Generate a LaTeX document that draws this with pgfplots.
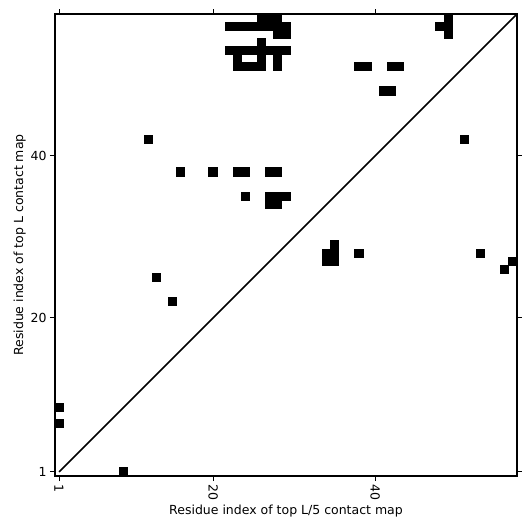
\documentclass[border=0pt]{standalone}
\usepackage{fontspec}
\setmainfont{DejaVu Sans}
\usepackage{pgfplots}
\pgfplotsset{compat=1.18}
\begin{document}
\begin{tikzpicture}
\path[use as bounding box] (-55pt,-55pt) rectangle (476pt,476pt);
\begin{axis}[
 at={(0pt,0pt)}, anchor=south west,
 width=462pt, height=462pt, scale only axis,
 xmin=0.5, xmax=57.5, ymin=0.5, ymax=57.5,
 xtick={1,20,40}, ytick={1,20,40},
 tick align=outside, major tick length=5pt,
 every tick/.style={black, line width=1pt},
 axis line style={line width=1.8pt},
 tick label style={font=\fontsize{12.5}{15}\selectfont},
 label style={font=\fontsize{12.5}{15}\selectfont},
 /pgf/number format/assume math mode=true,
 xticklabel style={rotate=-90, anchor=west},
 xlabel={Residue index of top L/5 contact map},
 ylabel={Residue index of top L contact map},
 xlabel style={yshift=2pt},
 ylabel style={yshift=-2pt},
]
\addplot[black, line width=1.5pt] coordinates {(1,1) (57.5,57.5)};
\addplot[only marks, mark=square*, mark size=4.06pt, mark options={fill=black, draw=black, line width=0pt}] coordinates {
(26,57) (27,57) (28,57)
(22,56) (23,56) (24,56) (25,56) (26,56) (27,56) (28,56) (29,56)
(28,55) (29,55)
(26,54)
(22,53) (23,53) (24,53) (25,53) (26,53) (27,53) (28,53) (29,53)
(23,52) (26,52) (28,52)
(23,51) (24,51) (25,51) (26,51) (28,51)
(38,51) (39,51) (42,51) (43,51) (41,48) (42,48)
(49,57) (49,56) (49,55) (48,56)
(12,42) (51,42)
(16,38) (20,38) (23,38) (24,38) (27,38) (28,38)
(24,35) (27,35) (28,35) (29,35)
(27,34) (28,34)
(35,29) (34,28) (35,28) (34,27) (35,27) (38,28) (53,28)
(57,27) (56,26) (13,25) (15,22)
(1,9) (1,7) (9,1)
};
\end{axis}
\end{tikzpicture}
\end{document}
